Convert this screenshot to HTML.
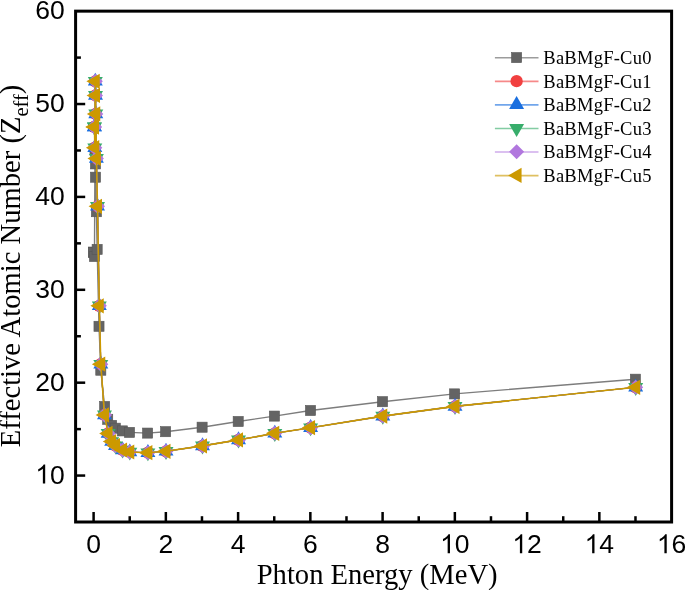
<!DOCTYPE html><html><head><meta charset="utf-8"><style>html,body{margin:0;padding:0;background:#fff;width:685px;height:590px;overflow:hidden}svg{display:block;will-change:transform}</style></head><body><svg width="685" height="590" viewBox="0 0 685 590"><rect width="685" height="590" fill="#fff"/><defs><clipPath id="c"><rect x="75.6" y="11.15" width="596.0" height="510.85"/></clipPath></defs><g clip-path="url(#c)"><polyline fill="none" stroke="#7d7d7d" stroke-width="1.4" stroke-linejoin="round" points="93.5,252.1 93.7,252.3 94.45,256.5 95,150 95.5,163.9 95.5,177.2 96.4,211.7 97.15,249.4 99,326.3 100.8,370.2 104.6,406.5 107.7,419.3 111.6,425.4 115.3,428.2 122.4,430.9 129.5,432.4 147.6,433.1 165.6,431.7 202.1,427.2 238.2,421.5 274.4,416.1 310.5,410.5 382.5,401.7 454.6,393.9 635.4,379.2"/><rect x="88.45" y="247.05" width="10.1" height="10.1" fill="#646464" stroke="#575757" stroke-width="0.6"/><rect x="88.65" y="247.25" width="10.1" height="10.1" fill="#646464" stroke="#575757" stroke-width="0.6"/><rect x="89.4" y="251.45" width="10.1" height="10.1" fill="#646464" stroke="#575757" stroke-width="0.6"/><rect x="89.95" y="144.95" width="10.1" height="10.1" fill="#646464" stroke="#575757" stroke-width="0.6"/><rect x="90.45" y="158.85" width="10.1" height="10.1" fill="#646464" stroke="#575757" stroke-width="0.6"/><rect x="90.45" y="172.15" width="10.1" height="10.1" fill="#646464" stroke="#575757" stroke-width="0.6"/><rect x="91.35" y="206.65" width="10.1" height="10.1" fill="#646464" stroke="#575757" stroke-width="0.6"/><rect x="92.1" y="244.35" width="10.1" height="10.1" fill="#646464" stroke="#575757" stroke-width="0.6"/><rect x="93.95" y="321.25" width="10.1" height="10.1" fill="#646464" stroke="#575757" stroke-width="0.6"/><rect x="95.75" y="365.15" width="10.1" height="10.1" fill="#646464" stroke="#575757" stroke-width="0.6"/><rect x="99.55" y="401.45" width="10.1" height="10.1" fill="#646464" stroke="#575757" stroke-width="0.6"/><rect x="102.65" y="414.25" width="10.1" height="10.1" fill="#646464" stroke="#575757" stroke-width="0.6"/><rect x="106.55" y="420.35" width="10.1" height="10.1" fill="#646464" stroke="#575757" stroke-width="0.6"/><rect x="110.25" y="423.15" width="10.1" height="10.1" fill="#646464" stroke="#575757" stroke-width="0.6"/><rect x="117.35" y="425.85" width="10.1" height="10.1" fill="#646464" stroke="#575757" stroke-width="0.6"/><rect x="124.45" y="427.35" width="10.1" height="10.1" fill="#646464" stroke="#575757" stroke-width="0.6"/><rect x="142.55" y="428.05" width="10.1" height="10.1" fill="#646464" stroke="#575757" stroke-width="0.6"/><rect x="160.55" y="426.65" width="10.1" height="10.1" fill="#646464" stroke="#575757" stroke-width="0.6"/><rect x="197.05" y="422.15" width="10.1" height="10.1" fill="#646464" stroke="#575757" stroke-width="0.6"/><rect x="233.15" y="416.45" width="10.1" height="10.1" fill="#646464" stroke="#575757" stroke-width="0.6"/><rect x="269.35" y="411.05" width="10.1" height="10.1" fill="#646464" stroke="#575757" stroke-width="0.6"/><rect x="305.45" y="405.45" width="10.1" height="10.1" fill="#646464" stroke="#575757" stroke-width="0.6"/><rect x="377.45" y="396.65" width="10.1" height="10.1" fill="#646464" stroke="#575757" stroke-width="0.6"/><rect x="449.55" y="388.85" width="10.1" height="10.1" fill="#646464" stroke="#575757" stroke-width="0.6"/><rect x="630.35" y="374.15" width="10.1" height="10.1" fill="#646464" stroke="#575757" stroke-width="0.6"/><polyline fill="none" stroke="#F14040" stroke-width="1.1" stroke-linejoin="round" points="94.3,126.9 94.5,126.9 94.8,147.7 95.3,81.3 95.5,95.4 95.8,113.9 96.4,158.4 97.5,206.3 99.3,305.8 100.8,364.2 104.5,414.9 108.1,433.4 111.7,441.5 115.5,445.7 122.6,450 129.8,452 147.9,452.7 166,451.3 202.5,445.9 238.5,439.9 274.8,433.3 310.6,427.7 382.8,416.1 455,406.4 635.7,387.3"/><circle cx="94.3" cy="126.9" r="6.15" fill="#F14040"/><circle cx="94.5" cy="126.9" r="6.15" fill="#F14040"/><circle cx="94.8" cy="147.7" r="6.15" fill="#F14040"/><circle cx="95.3" cy="81.3" r="6.15" fill="#F14040"/><circle cx="95.5" cy="95.4" r="6.15" fill="#F14040"/><circle cx="95.8" cy="113.9" r="6.15" fill="#F14040"/><circle cx="96.4" cy="158.4" r="6.15" fill="#F14040"/><circle cx="97.5" cy="206.3" r="6.15" fill="#F14040"/><circle cx="99.3" cy="305.8" r="6.15" fill="#F14040"/><circle cx="100.8" cy="364.2" r="6.15" fill="#F14040"/><circle cx="104.5" cy="414.9" r="6.15" fill="#F14040"/><circle cx="108.1" cy="433.4" r="6.15" fill="#F14040"/><circle cx="111.7" cy="441.5" r="6.15" fill="#F14040"/><circle cx="115.5" cy="445.7" r="6.15" fill="#F14040"/><circle cx="122.6" cy="450" r="6.15" fill="#F14040"/><circle cx="129.8" cy="452" r="6.15" fill="#F14040"/><circle cx="147.9" cy="452.7" r="6.15" fill="#F14040"/><circle cx="166" cy="451.3" r="6.15" fill="#F14040"/><circle cx="202.5" cy="445.9" r="6.15" fill="#F14040"/><circle cx="238.5" cy="439.9" r="6.15" fill="#F14040"/><circle cx="274.8" cy="433.3" r="6.15" fill="#F14040"/><circle cx="310.6" cy="427.7" r="6.15" fill="#F14040"/><circle cx="382.8" cy="416.1" r="6.15" fill="#F14040"/><circle cx="455" cy="406.4" r="6.15" fill="#F14040"/><circle cx="635.7" cy="387.3" r="6.15" fill="#F14040"/><polyline fill="none" stroke="#1A6FDF" stroke-width="1.1" stroke-linejoin="round" points="94.3,126.9 94.5,126.9 94.8,147.7 95.3,81.3 95.5,95.4 95.8,113.9 96.4,158.4 97.5,206.3 99.3,305.8 100.8,364.2 104.5,414.9 108.1,433.4 111.7,441.5 115.5,445.7 122.6,450 129.8,452 147.9,452.7 166,451.3 202.5,445.9 238.5,439.9 274.8,433.3 310.6,427.7 382.8,416.1 455,406.4 635.7,387.3"/><path d="M94.3 118.3L101.8 131.2L86.8 131.2Z" fill="#1A6FDF"/><path d="M94.5 118.3L102 131.2L87 131.2Z" fill="#1A6FDF"/><path d="M94.8 139.1L102.3 152L87.3 152Z" fill="#1A6FDF"/><path d="M95.3 72.7L102.8 85.6L87.8 85.6Z" fill="#1A6FDF"/><path d="M95.5 86.8L103 99.7L88 99.7Z" fill="#1A6FDF"/><path d="M95.8 105.3L103.3 118.2L88.3 118.2Z" fill="#1A6FDF"/><path d="M96.4 149.8L103.9 162.7L88.9 162.7Z" fill="#1A6FDF"/><path d="M97.5 197.7L105 210.6L90 210.6Z" fill="#1A6FDF"/><path d="M99.3 297.2L106.8 310.1L91.8 310.1Z" fill="#1A6FDF"/><path d="M100.8 355.6L108.3 368.5L93.3 368.5Z" fill="#1A6FDF"/><path d="M104.5 406.3L112 419.2L97 419.2Z" fill="#1A6FDF"/><path d="M108.1 424.8L115.6 437.7L100.6 437.7Z" fill="#1A6FDF"/><path d="M111.7 432.9L119.2 445.8L104.2 445.8Z" fill="#1A6FDF"/><path d="M115.5 437.1L123 450L108 450Z" fill="#1A6FDF"/><path d="M122.6 441.4L130.1 454.3L115.1 454.3Z" fill="#1A6FDF"/><path d="M129.8 443.4L137.3 456.3L122.3 456.3Z" fill="#1A6FDF"/><path d="M147.9 444.1L155.4 457L140.4 457Z" fill="#1A6FDF"/><path d="M166 442.7L173.5 455.6L158.5 455.6Z" fill="#1A6FDF"/><path d="M202.5 437.3L210 450.2L195 450.2Z" fill="#1A6FDF"/><path d="M238.5 431.3L246 444.2L231 444.2Z" fill="#1A6FDF"/><path d="M274.8 424.7L282.3 437.6L267.3 437.6Z" fill="#1A6FDF"/><path d="M310.6 419.1L318.1 432L303.1 432Z" fill="#1A6FDF"/><path d="M382.8 407.5L390.3 420.4L375.3 420.4Z" fill="#1A6FDF"/><path d="M455 397.8L462.5 410.7L447.5 410.7Z" fill="#1A6FDF"/><path d="M635.7 378.7L643.2 391.6L628.2 391.6Z" fill="#1A6FDF"/><polyline fill="none" stroke="#37AD6B" stroke-width="1.1" stroke-linejoin="round" points="94.3,126.9 94.5,126.9 94.8,147.7 95.3,81.3 95.5,95.4 95.8,113.9 96.4,158.4 97.5,206.3 99.3,305.8 100.8,364.2 104.5,414.9 108.1,433.4 111.7,441.5 115.5,445.7 122.6,450 129.8,452 147.9,452.7 166,451.3 202.5,445.9 238.5,439.9 274.8,433.3 310.6,427.7 382.8,416.1 455,406.4 635.7,387.3"/><path d="M94.3 135.5L101.8 122.6L86.8 122.6Z" fill="#37AD6B"/><path d="M94.5 135.5L102 122.6L87 122.6Z" fill="#37AD6B"/><path d="M94.8 156.3L102.3 143.4L87.3 143.4Z" fill="#37AD6B"/><path d="M95.3 89.9L102.8 77L87.8 77Z" fill="#37AD6B"/><path d="M95.5 104L103 91.1L88 91.1Z" fill="#37AD6B"/><path d="M95.8 122.5L103.3 109.6L88.3 109.6Z" fill="#37AD6B"/><path d="M96.4 167L103.9 154.1L88.9 154.1Z" fill="#37AD6B"/><path d="M97.5 214.9L105 202L90 202Z" fill="#37AD6B"/><path d="M99.3 314.4L106.8 301.5L91.8 301.5Z" fill="#37AD6B"/><path d="M100.8 372.8L108.3 359.9L93.3 359.9Z" fill="#37AD6B"/><path d="M104.5 423.5L112 410.6L97 410.6Z" fill="#37AD6B"/><path d="M108.1 442L115.6 429.1L100.6 429.1Z" fill="#37AD6B"/><path d="M111.7 450.1L119.2 437.2L104.2 437.2Z" fill="#37AD6B"/><path d="M115.5 454.3L123 441.4L108 441.4Z" fill="#37AD6B"/><path d="M122.6 458.6L130.1 445.7L115.1 445.7Z" fill="#37AD6B"/><path d="M129.8 460.6L137.3 447.7L122.3 447.7Z" fill="#37AD6B"/><path d="M147.9 461.3L155.4 448.4L140.4 448.4Z" fill="#37AD6B"/><path d="M166 459.9L173.5 447L158.5 447Z" fill="#37AD6B"/><path d="M202.5 454.5L210 441.6L195 441.6Z" fill="#37AD6B"/><path d="M238.5 448.5L246 435.6L231 435.6Z" fill="#37AD6B"/><path d="M274.8 441.9L282.3 429L267.3 429Z" fill="#37AD6B"/><path d="M310.6 436.3L318.1 423.4L303.1 423.4Z" fill="#37AD6B"/><path d="M382.8 424.7L390.3 411.8L375.3 411.8Z" fill="#37AD6B"/><path d="M455 415L462.5 402.1L447.5 402.1Z" fill="#37AD6B"/><path d="M635.7 395.9L643.2 383L628.2 383Z" fill="#37AD6B"/><polyline fill="none" stroke="#B177DE" stroke-width="1.1" stroke-linejoin="round" points="94.3,126.9 94.5,126.9 94.8,147.7 95.3,81.3 95.5,95.4 95.8,113.9 96.4,158.4 97.5,206.3 99.3,305.8 100.8,364.2 104.5,414.9 108.1,433.4 111.7,441.5 115.5,445.7 122.6,450 129.8,452 147.9,452.7 166,451.3 202.5,445.9 238.5,439.9 274.8,433.3 310.6,427.7 382.8,416.1 455,406.4 635.7,387.3"/><path d="M94.3 119.4L101.8 126.9L94.3 134.4L86.8 126.9Z" fill="#B177DE"/><path d="M94.5 119.4L102 126.9L94.5 134.4L87 126.9Z" fill="#B177DE"/><path d="M94.8 140.2L102.3 147.7L94.8 155.2L87.3 147.7Z" fill="#B177DE"/><path d="M95.3 73.8L102.8 81.3L95.3 88.8L87.8 81.3Z" fill="#B177DE"/><path d="M95.5 87.9L103 95.4L95.5 102.9L88 95.4Z" fill="#B177DE"/><path d="M95.8 106.4L103.3 113.9L95.8 121.4L88.3 113.9Z" fill="#B177DE"/><path d="M96.4 150.9L103.9 158.4L96.4 165.9L88.9 158.4Z" fill="#B177DE"/><path d="M97.5 198.8L105 206.3L97.5 213.8L90 206.3Z" fill="#B177DE"/><path d="M99.3 298.3L106.8 305.8L99.3 313.3L91.8 305.8Z" fill="#B177DE"/><path d="M100.8 356.7L108.3 364.2L100.8 371.7L93.3 364.2Z" fill="#B177DE"/><path d="M104.5 407.4L112 414.9L104.5 422.4L97 414.9Z" fill="#B177DE"/><path d="M108.1 425.9L115.6 433.4L108.1 440.9L100.6 433.4Z" fill="#B177DE"/><path d="M111.7 434L119.2 441.5L111.7 449L104.2 441.5Z" fill="#B177DE"/><path d="M115.5 438.2L123 445.7L115.5 453.2L108 445.7Z" fill="#B177DE"/><path d="M122.6 442.5L130.1 450L122.6 457.5L115.1 450Z" fill="#B177DE"/><path d="M129.8 444.5L137.3 452L129.8 459.5L122.3 452Z" fill="#B177DE"/><path d="M147.9 445.2L155.4 452.7L147.9 460.2L140.4 452.7Z" fill="#B177DE"/><path d="M166 443.8L173.5 451.3L166 458.8L158.5 451.3Z" fill="#B177DE"/><path d="M202.5 438.4L210 445.9L202.5 453.4L195 445.9Z" fill="#B177DE"/><path d="M238.5 432.4L246 439.9L238.5 447.4L231 439.9Z" fill="#B177DE"/><path d="M274.8 425.8L282.3 433.3L274.8 440.8L267.3 433.3Z" fill="#B177DE"/><path d="M310.6 420.2L318.1 427.7L310.6 435.2L303.1 427.7Z" fill="#B177DE"/><path d="M382.8 408.6L390.3 416.1L382.8 423.6L375.3 416.1Z" fill="#B177DE"/><path d="M455 398.9L462.5 406.4L455 413.9L447.5 406.4Z" fill="#B177DE"/><path d="M635.7 379.8L643.2 387.3L635.7 394.8L628.2 387.3Z" fill="#B177DE"/><polyline fill="none" stroke="#CC9900" stroke-width="1.6" stroke-linejoin="round" points="94.3,126.9 94.5,126.9 94.8,147.7 95.3,81.3 95.5,95.4 95.8,113.9 96.4,158.4 97.5,206.3 99.3,305.8 100.8,364.2 104.5,414.9 108.1,433.4 111.7,441.5 115.5,445.7 122.6,450 129.8,452 147.9,452.7 166,451.3 202.5,445.9 238.5,439.9 274.8,433.3 310.6,427.7 382.8,416.1 455,406.4 635.7,387.3"/><path d="M85.37 126.9L98.77 119.3L98.77 134.5Z" fill="#CC9900"/><path d="M85.57 126.9L98.97 119.3L98.97 134.5Z" fill="#CC9900"/><path d="M85.87 147.7L99.27 140.1L99.27 155.3Z" fill="#CC9900"/><path d="M86.37 81.3L99.77 73.7L99.77 88.9Z" fill="#CC9900"/><path d="M86.57 95.4L99.97 87.8L99.97 103Z" fill="#CC9900"/><path d="M86.87 113.9L100.27 106.3L100.27 121.5Z" fill="#CC9900"/><path d="M87.47 158.4L100.87 150.8L100.87 166Z" fill="#CC9900"/><path d="M88.57 206.3L101.97 198.7L101.97 213.9Z" fill="#CC9900"/><path d="M90.37 305.8L103.77 298.2L103.77 313.4Z" fill="#CC9900"/><path d="M91.87 364.2L105.27 356.6L105.27 371.8Z" fill="#CC9900"/><path d="M95.57 414.9L108.97 407.3L108.97 422.5Z" fill="#CC9900"/><path d="M99.17 433.4L112.57 425.8L112.57 441Z" fill="#CC9900"/><path d="M102.77 441.5L116.17 433.9L116.17 449.1Z" fill="#CC9900"/><path d="M106.57 445.7L119.97 438.1L119.97 453.3Z" fill="#CC9900"/><path d="M113.67 450L127.07 442.4L127.07 457.6Z" fill="#CC9900"/><path d="M120.87 452L134.27 444.4L134.27 459.6Z" fill="#CC9900"/><path d="M138.97 452.7L152.37 445.1L152.37 460.3Z" fill="#CC9900"/><path d="M157.07 451.3L170.47 443.7L170.47 458.9Z" fill="#CC9900"/><path d="M193.57 445.9L206.97 438.3L206.97 453.5Z" fill="#CC9900"/><path d="M229.57 439.9L242.97 432.3L242.97 447.5Z" fill="#CC9900"/><path d="M265.87 433.3L279.27 425.7L279.27 440.9Z" fill="#CC9900"/><path d="M301.67 427.7L315.07 420.1L315.07 435.3Z" fill="#CC9900"/><path d="M373.87 416.1L387.27 408.5L387.27 423.7Z" fill="#CC9900"/><path d="M446.07 406.4L459.47 398.8L459.47 414Z" fill="#CC9900"/><path d="M626.77 387.3L640.17 379.7L640.17 394.9Z" fill="#CC9900"/></g><rect x="75.6" y="11.15" width="596" height="510.85" fill="none" stroke="#000" stroke-width="3.0"/><g stroke="#000" stroke-width="2.5"><line x1="93.6" y1="522" x2="93.6" y2="512"/><line x1="129.72" y1="522" x2="129.72" y2="516.2"/><line x1="165.85" y1="522" x2="165.85" y2="512"/><line x1="201.97" y1="522" x2="201.97" y2="516.2"/><line x1="238.1" y1="522" x2="238.1" y2="512"/><line x1="274.23" y1="522" x2="274.23" y2="516.2"/><line x1="310.35" y1="522" x2="310.35" y2="512"/><line x1="346.48" y1="522" x2="346.48" y2="516.2"/><line x1="382.6" y1="522" x2="382.6" y2="512"/><line x1="418.73" y1="522" x2="418.73" y2="516.2"/><line x1="454.85" y1="522" x2="454.85" y2="512"/><line x1="490.98" y1="522" x2="490.98" y2="516.2"/><line x1="527.1" y1="522" x2="527.1" y2="512"/><line x1="563.23" y1="522" x2="563.23" y2="516.2"/><line x1="599.35" y1="522" x2="599.35" y2="512"/><line x1="635.48" y1="522" x2="635.48" y2="516.2"/><line x1="75.6" y1="475.56" x2="85.2" y2="475.56"/><line x1="75.6" y1="429.12" x2="80.9" y2="429.12"/><line x1="75.6" y1="382.68" x2="85.2" y2="382.68"/><line x1="75.6" y1="336.24" x2="80.9" y2="336.24"/><line x1="75.6" y1="289.8" x2="85.2" y2="289.8"/><line x1="75.6" y1="243.35" x2="80.9" y2="243.35"/><line x1="75.6" y1="196.91" x2="85.2" y2="196.91"/><line x1="75.6" y1="150.47" x2="80.9" y2="150.47"/><line x1="75.6" y1="104.03" x2="85.2" y2="104.03"/><line x1="75.6" y1="57.59" x2="80.9" y2="57.59"/></g><g font-family="Liberation Sans" font-size="26.5" fill="#000"><text x="86.23" y="553.2">0</text><text x="158.48" y="553.2">2</text><text x="230.73" y="553.2">4</text><text x="302.98" y="553.2">6</text><text x="375.23" y="553.2">8</text><path transform="translate(440.11,553.2) scale(0.012939,-0.012939)" d="M763 0h-180v1147q-65 -62 -170.5 -124t-189.5 -93v174q151 71 264 172t160 196h116v-1472z"/><text x="454.85" y="553.2">0</text><path transform="translate(512.36,553.2) scale(0.012939,-0.012939)" d="M763 0h-180v1147q-65 -62 -170.5 -124t-189.5 -93v174q151 71 264 172t160 196h116v-1472z"/><text x="527.1" y="553.2">2</text><path transform="translate(584.61,553.2) scale(0.012939,-0.012939)" d="M763 0h-180v1147q-65 -62 -170.5 -124t-189.5 -93v174q151 71 264 172t160 196h116v-1472z"/><text x="599.35" y="553.2">4</text><path transform="translate(656.86,553.2) scale(0.012939,-0.012939)" d="M763 0h-180v1147q-65 -62 -170.5 -124t-189.5 -93v174q151 71 264 172t160 196h116v-1472z"/><text x="671.6" y="553.2">6</text><path transform="translate(35.32,483.56) scale(0.012939,-0.012939)" d="M763 0h-180v1147q-65 -62 -170.5 -124t-189.5 -93v174q151 71 264 172t160 196h116v-1472z"/><text x="50.06" y="483.56">0</text><text x="35.32" y="390.68">2</text><text x="50.06" y="390.68">0</text><text x="35.32" y="297.8">3</text><text x="50.06" y="297.8">0</text><text x="35.32" y="204.91">4</text><text x="50.06" y="204.91">0</text><text x="35.32" y="112.03">5</text><text x="50.06" y="112.03">0</text><text x="35.32" y="19.15">6</text><text x="50.06" y="19.15">0</text></g><g font-family="Liberation Serif" font-size="28.6" fill="#000"><text x="256.7" y="583.9">Phton Energy (MeV)</text><text transform="translate(19.8,447.2) rotate(-90)" x="0" y="0">Effective Atomic Number (Z<tspan font-size="20.5" dy="8">eff</tspan><tspan dy="-8">)</tspan></text></g><g font-family="Liberation Serif" font-size="18.5" letter-spacing="0.25" fill="#000"><line x1="494.9" y1="57.8" x2="538.5" y2="57.8" stroke="#5f5f5f" stroke-width="1.6" stroke-opacity="0.62"/><rect x="511.55" y="52.55" width="10.1" height="10.1" fill="#646464" stroke="#575757" stroke-width="0.6"/><text x="543.3" y="64.2">BaBMgF-Cu0</text><line x1="494.9" y1="81.36" x2="538.5" y2="81.36" stroke="#F14040" stroke-width="1.6" stroke-opacity="0.62"/><circle cx="516.6" cy="81.16" r="6.15" fill="#F14040"/><text x="543.3" y="87.76">BaBMgF-Cu1</text><line x1="494.9" y1="104.92" x2="538.5" y2="104.92" stroke="#1A6FDF" stroke-width="1.6" stroke-opacity="0.62"/><path d="M516.6 96.12L524.1 109.02L509.1 109.02Z" fill="#1A6FDF"/><text x="543.3" y="111.32">BaBMgF-Cu2</text><line x1="494.9" y1="128.48" x2="538.5" y2="128.48" stroke="#37AD6B" stroke-width="1.6" stroke-opacity="0.62"/><path d="M516.6 136.88L524.1 123.98L509.1 123.98Z" fill="#37AD6B"/><text x="543.3" y="134.88">BaBMgF-Cu3</text><line x1="494.9" y1="152.04" x2="538.5" y2="152.04" stroke="#B177DE" stroke-width="1.6" stroke-opacity="0.62"/><path d="M516.6 144.34L524.1 151.84L516.6 159.34L509.1 151.84Z" fill="#B177DE"/><text x="543.3" y="158.44">BaBMgF-Cu4</text><line x1="494.9" y1="175.6" x2="538.5" y2="175.6" stroke="#CC9900" stroke-width="1.6" stroke-opacity="0.62"/><path d="M508.17 175.4L521.57 167.8L521.57 183Z" fill="#CC9900"/><text x="543.3" y="182">BaBMgF-Cu5</text></g></svg></body></html>
